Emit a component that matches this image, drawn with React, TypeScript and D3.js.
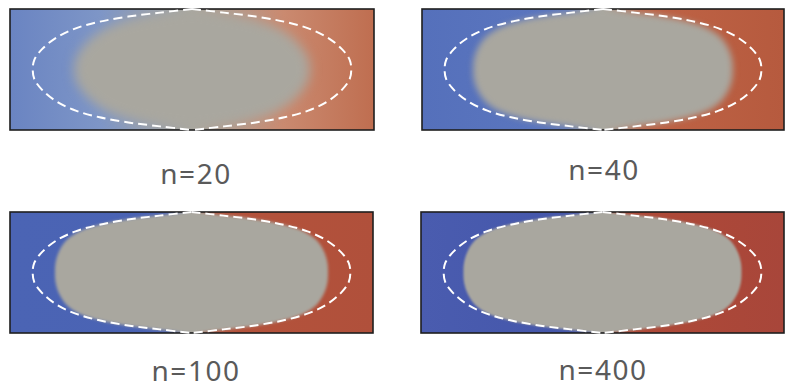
import React from "react";
import * as d3 from "d3";

// ---- data ----
const panelLabels = ["n=20", "n=40", "n=100", "n=400"];
// quarter of the dashed reference contour, normalised (u: horizontal, v: vertical)
const contourU = [0, 0.2, 0.4, 0.58, 0.73, 0.85, 0.94, 0.99, 1];
const contourV = [1, 0.94, 0.875, 0.79, 0.68, 0.53, 0.34, 0.16, 0];
const dashedHalfWidth = 0.875; // in panel domain units (-1..1)
// grey (mixed) region: horizontal scale of contour and soft cut-off, both relative to dashed contour
const grayScale = [0.74, 0.92, 0.99, 1.01];
const grayCut = [5, 0.92, 0.944, 0.96];
const grayTall = [1.0, 1.01, 1.01, 1.01];
const graySoftness = [5.5, 3, 1.8, 1.2];
const grayColor = "#a9a79f";
// background field colours
const leftEdge = ["#6a84c2", "#5570bb", "#4b64b4", "#4a5caf"];
const leftInner = ["#7e96c7", "#5c77bf", "#4a63b4", "#4456aa"];
const rightInner = ["#ca8a70", "#bf6446", "#b5533b", "#b04a37"];
const rightEdge = ["#bf6e50", "#b65a3e", "#b0503b", "#a8463a"];
const transition = [0.25, 0.1, 0.05, 0.03];

// layout
const panels = [
  { x0: 10, x1: 374, y0: 9, y1: 130, lx: 196, ly: 184 },
  { x0: 422, x1: 784, y0: 9, y1: 130, lx: 604, ly: 180 },
  { x0: 10, x1: 373, y0: 212, y1: 333, lx: 196, ly: 381 },
  { x0: 421, x1: 784, y0: 212, y1: 333, lx: 603, ly: 380 },
];

function halves(sx: number, sy: number, cut = 100) {
  const k = 6;
  const q = contourU.map((u, i) => {
    const su = u * sx;
    const uu = su === 0 ? 0 : su * Math.pow(1 + Math.pow(su / cut, k), -1 / k);
    return [uu, contourV[i] * sy];
  });
  const right = [...q, ...q.slice(0, -1).reverse().map(([u, v]) => [u, -v])];
  const left = right.map(([u, v]) => [-u, v]);
  return { right, left };
}

function Panel({ i }: { i: number }) {
  const p = panels[i];
  const x = d3.scaleLinear().domain([-1, 1]).range([p.x0, p.x1]);
  const y = d3.scaleLinear().domain([-1, 1]).range([p.y1, p.y0]);
  const line = d3
    .line<number[]>()
    .x((d) => x(d[0]))
    .y((d) => y(d[1]))
    .curve(d3.curveCatmullRom.alpha(0.5));

  const dashed = halves(dashedHalfWidth, 1);
  const gray = halves(
    grayScale[i] * dashedHalfWidth,
    grayTall[i],
    grayCut[i] * dashedHalfWidth
  );
  const rightD = line(gray.right) as string;
  const leftD = line(gray.left.slice().reverse()) as string;
  const grayD = rightD + leftD.replace(/^M/, "L") + "Z";
  const w = transition[i];
  const id = `p${i}`;
  return (
    <g>
      <defs>
        <linearGradient id={`${id}-grad`} x1="0" x2="1" y1="0" y2="0">
          <stop offset={0} stopColor={leftEdge[i]} />
          <stop offset={0.5 - w} stopColor={leftInner[i]} />
          <stop offset={0.5} stopColor={grayColor} />
          <stop offset={0.5 + w} stopColor={rightInner[i]} />
          <stop offset={1} stopColor={rightEdge[i]} />
        </linearGradient>
        <clipPath id={`${id}-panel`}>
          <rect x={p.x0} y={p.y0} width={p.x1 - p.x0} height={p.y1 - p.y0} />
        </clipPath>
        <filter
          id={`${id}-soft`}
          filterUnits="userSpaceOnUse"
          x={p.x0 - 40}
          y={p.y0 - 40}
          width={p.x1 - p.x0 + 80}
          height={p.y1 - p.y0 + 80}
          colorInterpolationFilters="sRGB"
        >
          <feGaussianBlur in="SourceGraphic" stdDeviation={graySoftness[i]} />
        </filter>
      </defs>
      <g clipPath={`url(#${id}-panel)`}>
        <rect
          x={p.x0}
          y={p.y0}
          width={p.x1 - p.x0}
          height={p.y1 - p.y0}
          fill={`url(#${id}-grad)`}
        />
        <path d={grayD} fill={grayColor} filter={`url(#${id}-soft)`} />
      </g>
      <rect
        x={p.x0}
        y={p.y0}
        width={p.x1 - p.x0}
        height={p.y1 - p.y0}
        fill="none"
        stroke="#1e1e1e"
        strokeWidth={1.6}
      />
      {[dashed.right, dashed.left].map((pts, k) => (
        <path
          key={k}
          d={line(pts) as string}
          fill="none"
          stroke="#ffffff"
          strokeWidth={2}
          strokeDasharray="9 5"
        />
      ))}
      <text
        x={p.lx}
        y={p.ly}
        textAnchor="middle"
        fontFamily="'Noto Sans', 'Open Sans', sans-serif"
        fontSize={28}
        letterSpacing={1.5}
        fill="#5a5a5a"
      >
        {panelLabels[i]}
      </text>
    </g>
  );
}

export default function App() {
  return (
    <svg
      width={785}
      height={388}
      style={{ position: "absolute", left: 0, top: 0, background: "#ffffff" }}
    >
      {panels.map((_, i) => (
        <Panel key={i} i={i} />
      ))}
    </svg>
  );
}
